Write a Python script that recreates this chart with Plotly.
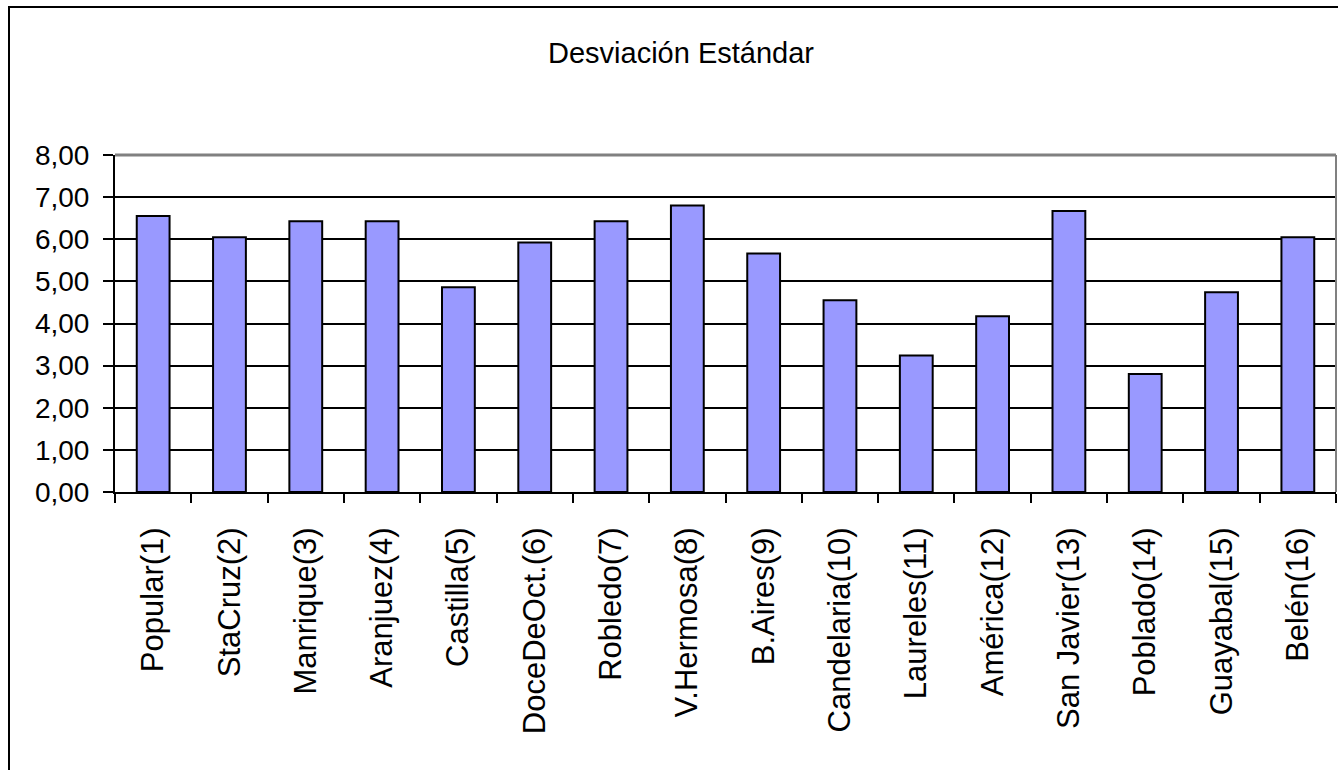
import plotly.graph_objects as go

categories = ["Popular(1)", "StaCruz(2)", "Manrique(3)", "Aranjuez(4)", "Castilla(5)",
              "DoceDeOct.(6)", "Robledo(7)", "V.Hermosa(8)", "B.Aires(9)", "Candelaria(10)",
              "Laureles(11)", "América(12)", "San Javier(13)", "Poblado(14)", "Guayabal(15)",
              "Belén(16)"]
values = [6.55, 6.05, 6.43, 6.43, 4.86, 5.92, 6.43, 6.80, 5.66, 4.55,
          3.24, 4.17, 6.67, 2.80, 4.74, 6.05]
y_ticks = [0, 1, 2, 3, 4, 5, 6, 7, 8]

W, H = 1338, 770
L, R, T, B = 115, 2, 155, 278
pw = W - L - R
ph = H - T - B

fig = go.Figure(go.Bar(
    x=categories, y=values,
    marker=dict(color="#9999FF", line=dict(color="black", width=2)),
))

font_family = "Liberation Sans, Arial, sans-serif"

fig.update_layout(
    width=W, height=H,
    margin=dict(l=L, r=R, t=T, b=B, autoexpand=False),
    paper_bgcolor="white", plot_bgcolor="white",
    separators=",.",
    bargap=0.57,
    showlegend=False,
    font=dict(family=font_family, color="black"),
    title=dict(text="Desviación Estándar", x=681 / W, xanchor="center",
               y=1 - 53 / H, yanchor="middle",
               font=dict(size=29, family=font_family, color="black")),
    xaxis=dict(
        type="category", showgrid=False, showline=True, linecolor="black", linewidth=2,
        ticks="outside", tickson="boundaries", ticklen=9, tickwidth=2, tickcolor="black",
        tickangle=-90, tickfont=dict(size=31, family=font_family, color="black"),
        ticklabelstandoff=21,
    ),
    yaxis=dict(
        range=[0, 8], tickvals=y_ticks, tickformat=".2f",
        showgrid=True, gridcolor="black", gridwidth=2,
        showline=True, linecolor="black", linewidth=2, zeroline=False,
        ticks="outside", ticklen=10, tickwidth=2, tickcolor="black",
        tickfont=dict(size=28, family=font_family, color="black"),
        ticklabelstandoff=8,
    ),
    shapes=[
        # plot area top and right border (gray)
        dict(type="line", xref="paper", yref="paper", x0=0, x1=1, y0=1, y1=1,
             line=dict(color="#808080", width=3)),
        dict(type="line", xref="paper", yref="paper", x0=1, x1=1, y0=0, y1=1,
             line=dict(color="#808080", width=2)),
        # outer chart border
        dict(type="rect", xref="paper", yref="paper",
             x0=(9 - L) / pw, x1=1.05, y0=-2.0, y1=1 + (T - 7) / ph,
             line=dict(color="black", width=2), layer="below"),
    ],
)

fig.write_html("out.html", config={"displayModeBar": False},
               post_script="document.body.style.margin='0';")
